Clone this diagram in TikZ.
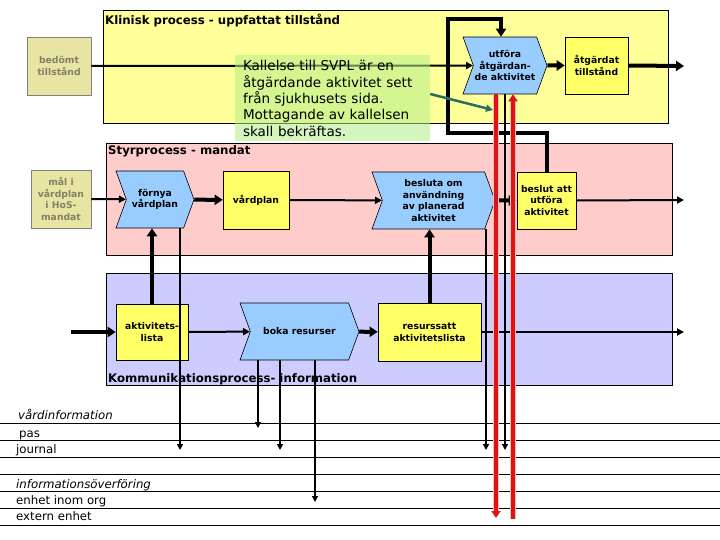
\documentclass[tikz,border=0pt]{standalone}
\usepackage{fontspec}
\setmainfont{DejaVu Sans}
\usetikzlibrary{shapes.symbols,arrows.meta,calc}
\definecolor{panelyellow}{RGB}{255,255,153}
\definecolor{panelpink}{RGB}{255,204,204}
\definecolor{panelblue}{RGB}{204,204,255}
\definecolor{boxyellow}{RGB}{255,255,102}
\definecolor{chevblue}{RGB}{153,204,255}
\definecolor{khaki}{RGB}{232,228,164}
\definecolor{khakitext}{RGB}{130,130,100}
\definecolor{calloutgreen}{RGB}{180,238,140}
\definecolor{tealarrow}{RGB}{40,110,96}
\definecolor{redline}{RGB}{220,20,20}
\definecolor{redhalo}{RGB}{255,185,185}
\tikzset{
  panel/.style={draw=black, line width=0.8bp},
  paneltitle/.style={anchor=base west, inner sep=0pt, font=\bfseries\fontsize{11.8}{13}\selectfont},
  boxtext/.style={font=\bfseries\fontsize{9.3}{11.7}\selectfont, align=center, inner sep=1bp},
  ybox/.style={boxtext, draw=black, line width=0.6bp, fill=boxyellow},
  kbox/.style={boxtext, draw=gray, line width=0.8bp, fill=khaki, text=khakitext},
  chev/.style={boxtext, shape=signal, signal from=west, signal to=east, signal pointer angle=140, draw=black, line width=0.6bp, fill=chevblue},
  thinarrow/.style={line width=2bp, -{Triangle[length=7bp,width=7bp]}},
  thickarrow/.style={line width=4bp, -{Triangle[length=8bp,width=10bp]}},
  finearrow/.style={line width=1.5bp, -{Triangle[length=6bp,width=6bp]}},
  redarrow/.style={line width=3.5bp, redline, -{Triangle[length=7bp,width=9bp]}},
  halo/.style={line width=6.5bp, redhalo},
  rowlabel/.style={anchor=base west, inner sep=0pt, font=\fontsize{11.8}{13}\selectfont},
}
\begin{document}
\begin{tikzpicture}[x=1bp,y=-1bp]
\useasboundingbox (0,0) rectangle (720,540);
\fill[white] (0,0) rectangle (720,540);

% panels
\draw[panel, fill=panelyellow] (103,10) rectangle (668,123);
\draw[panel, fill=panelpink] (106,143) rectangle (672,255);
\draw[panel, fill=panelblue] (106,273) rectangle (672,385);
\node[paneltitle] (t_klin) at (105,25) {Klinisk process - uppfattat tillstånd};
\node[paneltitle] (t_styr) at (108,155) {Styrprocess - mandat};
\node[paneltitle] (t_komm) at (108,382) {Kommunikationsprocess- information};

% bottom rows
\foreach \yy in {423,440,457,474,491,508,525} { \draw[line width=1bp] (0,\yy) -- (720,\yy); }
\node[rowlabel, font=\itshape\fontsize{11.8}{13}\selectfont] (l_vard) at (18,419) {vårdinformation};
\node[rowlabel] (l_pas) at (19,437) {pas};
\node[rowlabel] (l_journal) at (16,453) {journal};
\node[rowlabel, font=\itshape\fontsize{11.8}{13}\selectfont] (l_info) at (16,488) {informationsöverföring};
\node[rowlabel] (l_enhet) at (16,504) {enhet inom org};
\node[rowlabel] (l_extern) at (16,520) {extern enhet};

% nodes
\node[kbox, minimum width=64bp, minimum height=58bp] (bedomt) at (59,66) {bedömt\\tillstånd};
\node[kbox, minimum width=60bp, minimum height=58bp] (mal) at (61,199) {mål i\\vårdplan\\i HoS-\\mandat};
\node[chev, minimum width=84bp, minimum height=57bp] (utfora) at (505,65.5) {utföra\\åtgärdan-\\de aktivitet};
\node[ybox, minimum width=63bp, minimum height=57bp] (atgardat) at (596.5,65.5) {åtgärdat\\tillstånd};
\node[chev, minimum width=78bp, minimum height=57bp] (fornya) at (155,199.5) {förnya\\vårdplan};
\node[ybox, minimum width=66bp, minimum height=58bp] (vardplan) at (256,200) {vårdplan};
\node[chev, minimum width=123bp, minimum height=57bp] (besluta) at (433.5,200.5) {besluta om\\användning\\av planerad\\aktivitet};
\node[ybox, minimum width=59bp, minimum height=57bp] (beslutatt) at (546.5,200.5) {beslut att\\utföra\\aktivitet};
\node[ybox, minimum width=72bp, minimum height=56bp] (aktlista) at (152,332) {aktivitets-\\lista};
\node[chev, minimum width=119bp, minimum height=57bp] (boka) at (299.5,331.5) {boka resurser};
\node[ybox, minimum width=103bp, minimum height=58bp] (resurs) at (429.5,332) {resurssatt\\aktivitetslista};

% free ends
\coordinate (o1) at (684,66);
\coordinate (o2) at (684,200);
\coordinate (o3) at (684,332);
\coordinate (in1) at (71,332);
\coordinate (lp1) at (448,133);
\coordinate (lp2) at (448,19);
\coordinate (d180) at (180,450);
\coordinate (d258) at (258,428);
\coordinate (d280) at (280,450);
\coordinate (d315) at (315,502);
\coordinate (d486) at (486,450);
\coordinate (d505) at (505,450);
\coordinate (r1) at (496,518);
\coordinate (r2) at (513,519);
\coordinate (tealend) at (493,110);

% connectors
\draw[thinarrow] (bedomt.east) -- (utfora);
\draw[thickarrow] (utfora) -- (atgardat);
\draw[thickarrow] (atgardat.east) -- (o1);
\draw[thickarrow] (beslutatt.north) |- (lp1) -- (lp2) -| ([xshift=-4bp]utfora.north);
\draw[thinarrow] (mal.east) -- (fornya);
\draw[thickarrow] (fornya) -- (vardplan);
\draw[thinarrow] (vardplan) -- (besluta);
\draw[thickarrow] (besluta) -- (beslutatt);
\draw[thinarrow] (beslutatt.east) -- (o2);
\draw[thickarrow] (in1) -- (aktlista.west);
\draw[thickarrow] (aktlista.north) -- (aktlista.north |- fornya.south);
\draw[thinarrow] (aktlista) -- (boka);
\draw[thickarrow] (boka) -- (resurs);
\draw[thickarrow] (resurs.north) -- (resurs.north |- besluta.south);
\draw[thinarrow] (resurs.east) -- (o3);
\draw[finearrow] (fornya.south -| d180) -- (d180);
\draw[finearrow] (boka.south -| d258) -- (d258);
\draw[finearrow] (boka.south -| d280) -- (d280);
\draw[finearrow] (boka.south -| d315) -- (d315);
\draw[finearrow] (besluta.south -| d486) -- (d486);
\draw[finearrow] (utfora.south -| d505) -- (d505);

% red lines
\draw[halo] (utfora.south -| r1) -- ([yshift=4bp]r1);
\draw[halo] (r2) -- ([yshift=-6bp]utfora.south -| r2);
\draw[redarrow] (utfora.south -| r1) -- (r1);
\draw[redarrow] (r2) -- (utfora.south -| r2);

% callout
\node[fill=calloutgreen, fill opacity=0.55, text opacity=1, minimum width=195bp, minimum height=86bp, text width=179bp, inner xsep=8bp, align=left, font=\fontsize{13.6}{16.5}\selectfont] (callout) at (332.5,98.5) {Kallelse till SVPL är en\\åtgärdande aktivitet sett\\från sjukhusets sida.\\Mottagande av kallelsen\\skall bekräftas.};
\draw[tealarrow, line width=2.5bp, -{Triangle[length=7bp,width=7bp]}] ([yshift=4.5bp]callout.east) -- (tealend);
\end{tikzpicture}
\end{document}
